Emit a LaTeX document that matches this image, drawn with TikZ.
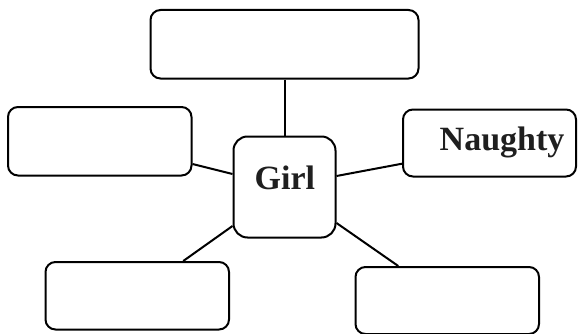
\documentclass[tikz,border=0pt]{standalone}
\usepackage{fontspec}
\setmainfont{Liberation Serif}
\usetikzlibrary{calc}
\begin{document}
\begin{tikzpicture}[x=1pt,y=1pt,
  box/.style={draw=black,line width=2pt,rounded corners=10pt,inner sep=0pt,minimum width=#1},
  link/.style={draw=black,line width=2pt},
  word/.style={font=\fontsize{34}{38}\selectfont\bfseries,text=black!88,inner sep=0pt,anchor=base west}]
\useasboundingbox (0,0) rectangle (581,333);
\node[box=268pt,minimum height=68.5pt] (top) at (284.5,288.75) {};
\node[box=183.5pt,minimum height=68.5pt] (left) at (99.75,191.75) {};
\node[box=102pt,minimum height=101pt,rounded corners=14pt] (girlbox) at (284.5,146) {};
\node[box=173pt,minimum height=67pt] (right) at (489.5,190) {};
\node[box=183.5pt,minimum height=67.5pt] (bl) at (137.25,37.25) {};
\node[box=183.5pt,minimum height=67pt] (br) at (447.25,32.5) {};
\node[word] (girl) at (254.5,143.7) {Girl};
\node[word] (naughty) at (439.5,183) {Naughty};
\draw[link] (top.south) -- (girlbox.north);
\draw[link] ([yshift=12.5pt]left.south east) -- ([yshift=13pt]girlbox.west);
\draw[link] ([yshift=11pt]girlbox.east) -- ([yshift=13.8pt]right.south west);
\draw[link] ([xshift=46pt]bl.north) -- ([yshift=-39pt]girlbox.west);
\draw[link] ([xshift=-49pt]br.north) -- ([yshift=-36pt]girlbox.east);
\end{tikzpicture}
\end{document}
